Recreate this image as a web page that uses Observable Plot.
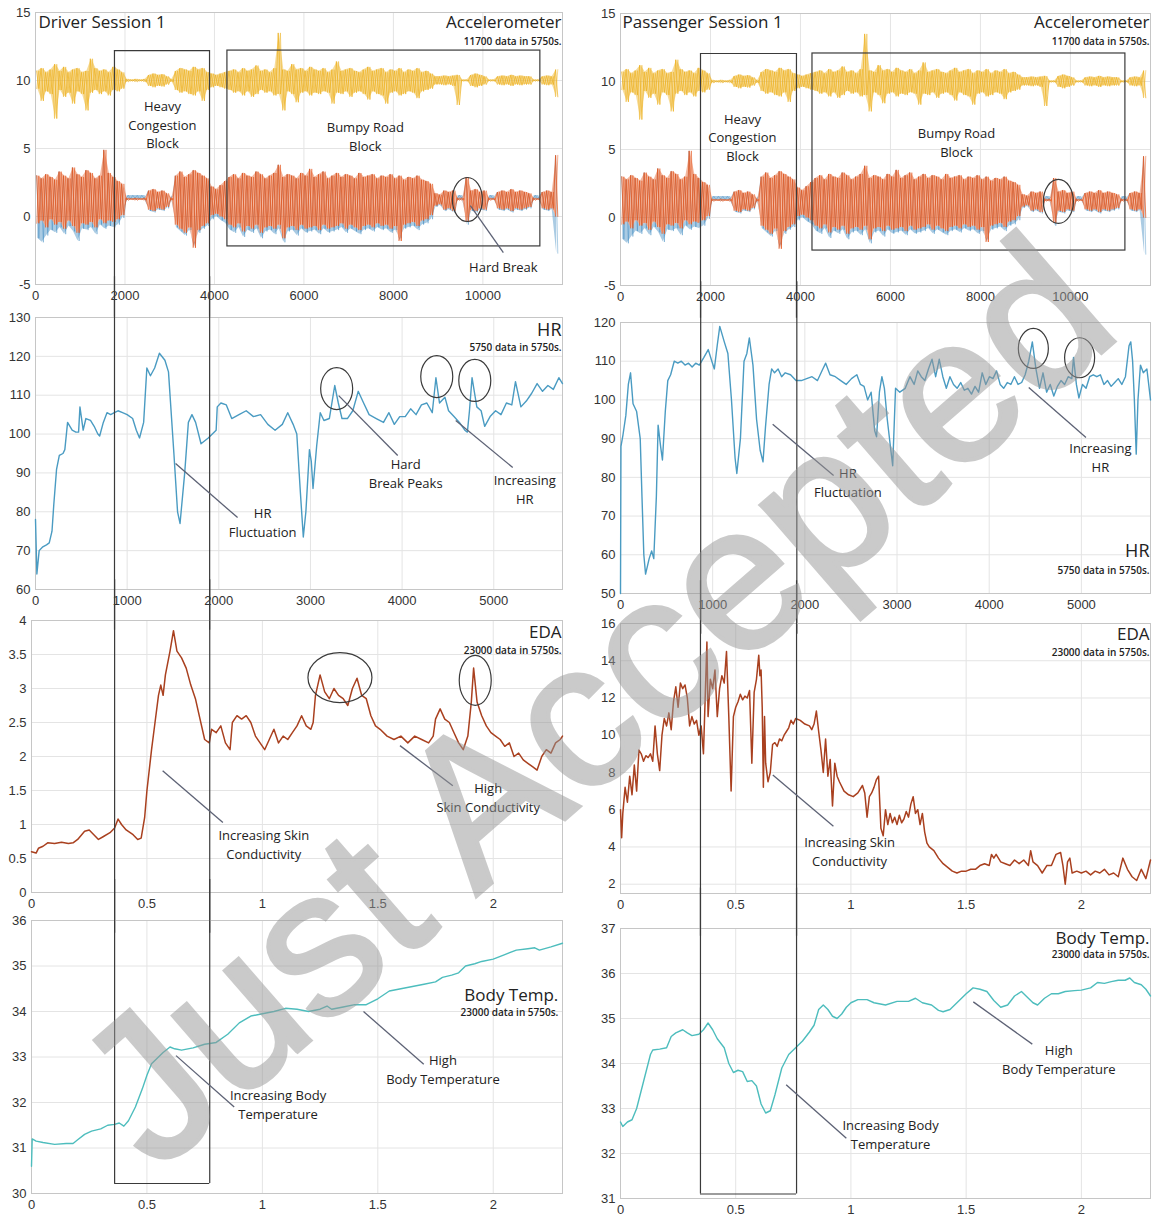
<!DOCTYPE html>
<html>
<head>
<meta charset="utf-8">
<script src="https://cdn.jsdelivr.net/npm/d3@7"></script>
<script src="https://cdn.jsdelivr.net/npm/@observablehq/plot@0.6"></script>
<style>
  body { margin: 0; background: #fff; }
  #page { position: relative; width: 1152px; height: 1220px; overflow: hidden; background: #fff; }
  #stampLayer { position: absolute; left: 0; top: 0; pointer-events: none; opacity: 0.5; }
</style>
</head>
<body>
<div id="page"></div>
<script>
// ---------------- Accelerometer: 11700 samples, envelope per 100-sample bin ----------------
const accBin = 100;
// vertical axis (gravity, ~10 m/s²) – yellow
const accGravHi = [10.7,10.9,10.6,10.8,11.2,10.7,11.0,10.6,10.8,10.9,10.6,10.7,11.6,10.9,10.7,10.8,10.6,11.0,
  10.8,10.6, 10.1,10.05,10.1,10.05,10.1, 10.4,10.5,10.4,10.45,10.3, 10.1,
  10.7,10.9,10.8,10.7,11.0,10.8,10.9,10.6, 10.5,10.4,10.5,10.6,
  10.7,10.8,10.6,10.9,10.7,10.8,11.1,10.7,10.8,10.6, 10.9,13.5,10.8,10.7,11.2,10.8,10.9,10.7,11.0,10.8,
  10.7,10.9,10.6,10.8,11.4,10.7,10.8,10.9,10.7,10.6, 10.8,11.0,10.7,10.8,10.9,10.6,10.8,10.7,10.9,10.6,
  10.8,10.7,10.9,10.6,10.7,10.5,
  10.3,10.3, 10.35,10.3,10.35, 10.4,10.05,10.05, 10.4,10.5,10.4,10.3, 10.05,10.05,
  10.3,10.35,10.3,10.4,10.3,10.35,10.3,10.3, 10.05,10.05, 10.3,10.35,10.3,10.8];
const accGravLo = [9.4,8.5,9.2,9.0,7.2,9.3,8.8,9.1,8.3,9.2,9.0,7.8,9.1,9.3,9.0,9.2,8.9,9.3,
  9.2,9.4, 9.9,9.95,9.9,9.95,9.9, 9.6,9.5,9.6,9.55,9.7, 9.9,
  9.3,9.1,9.2,9.0,8.9,9.2,8.5,9.3, 9.5,9.6,9.5,9.4,
  9.3,9.1,9.2,8.9,9.2,8.8,9.0,9.3,9.1,9.2, 8.9,9.0,7.8,9.2,9.0,8.4,9.1,9.2,8.9,9.1,
  9.0,9.2,9.1,8.3,9.1,9.0,9.2,8.8,9.1,9.2, 9.0,8.6,9.2,9.0,8.9,8.3,9.1,9.2,8.9,9.0,
  9.2,9.1,8.7,9.2,9.3,9.4,
  9.7,9.7, 9.65,9.7,9.6, 8.2,9.95,9.95, 9.6,9.5,9.6,9.7, 9.95,9.95,
  9.7,9.65,9.7,9.6,9.7,9.65,9.7,9.7, 9.95,9.95, 9.7,9.65,9.7,8.8];
// lateral axis – orange
const accLatHi = [3.0,2.8,3.1,2.9,2.7,3.3,3.0,2.8,3.6,3.1,2.9,3.4,3.2,2.8,3.0,4.9,3.2,2.9,
  2.6,2.4, 1.35,1.3,1.35,1.3,1.35, 1.9,2.0,1.8,1.9,1.7, 1.35,
  3.0,3.3,2.9,3.1,3.4,3.2,3.0,2.8, 2.2,2.0,2.3,2.6,
  2.9,3.1,2.8,3.2,3.0,2.9,3.3,3.1,2.8,3.0, 3.2,3.8,2.9,3.1,3.0,2.8,3.2,3.0,3.5,2.9,
  3.1,3.3,2.8,3.0,3.2,2.9,3.1,3.0,2.8,3.2, 2.9,3.0,3.1,2.8,3.0,2.9,3.1,2.8,3.0,2.7,
  2.9,2.8,3.0,2.7,2.6,2.4,
  1.7,1.6, 1.9,1.8,1.9, 1.35,1.35,2.9, 1.9,2.0,1.8,1.9, 1.35,1.3,
  1.8,1.9,1.8,2.0,1.8,1.9,1.8,1.7, 1.35,1.3, 1.8,1.9,1.8,4.5];
const accLatLo = [-0.5,-0.3,-0.8,-0.2,-0.6,-0.4,-0.9,-0.3,-0.7,-1.2,-0.5,-0.6,-0.4,-0.8,-0.2,-0.5,-0.3,-0.4,
  -0.2,0.1, 1.2,1.25,1.2,1.25,1.2, 0.5,0.4,0.6,0.5,0.7, 1.2,
  -0.6,-0.9,-1.2,-0.8,-2.3,-1.0,-0.7,-0.5, 0.1,0.2,0.0,-0.2,
  -0.6,-0.8,-0.5,-1.1,-0.7,-0.9,-0.6,-1.2,-0.8,-0.7, -0.9,-0.6,-1.6,-0.8,-0.7,-1.0,-0.6,-0.9,-0.8,-0.7,
  -1.0,-0.6,-0.9,-0.8,-0.7,-0.5,-0.9,-0.6,-0.8,-1.0, -0.7,-0.6,-0.8,-0.5,-0.7,-0.6,-0.9,-0.7,-1.8,-0.6,
  -0.5,-0.4,-0.7,-0.3,-0.2,0.1,
  0.8,0.9, 0.5,0.6,0.4, 1.2,1.2,-0.4, 0.5,0.4,0.6,0.5, 1.2,1.25,
  0.6,0.5,0.6,0.4,0.6,0.5,0.6,0.7, 1.2,1.25, 0.6,0.5,0.6,0.0];
// longitudinal axis – blue (lower excursions)
const accLongLo = [-1.6,-1.9,-1.4,-1.0,-1.2,-0.8,-1.3,-0.7,-1.1,-1.8,-0.9,-1.0,-0.8,-1.3,-0.6,-0.9,-0.7,-0.8,
  -0.6,-0.1, 1.55,1.55,1.55,1.55,1.55, 0.4,0.3,0.5,0.4,0.6, 1.55,
  -0.8,-1.1,-1.4,-1.0,-2.0,-1.2,-0.9,-0.7, -0.2,0.0,-0.3,-0.5,
  -1.0,-1.2,-0.8,-1.5,-1.0,-1.2,-0.9,-1.6,-1.1,-1.0, -1.3,-0.9,-1.9,-1.1,-1.0,-1.4,-0.9,-1.2,-1.1,-1.0,
  -1.3,-0.9,-1.2,-1.1,-1.0,-0.8,-1.2,-0.9,-1.1,-1.3, -1.0,-0.9,-1.1,-0.8,-1.0,-0.9,-1.2,-1.0,-1.6,-0.9,
  -0.8,-0.7,-1.0,-0.6,-0.5,-0.2,
  0.7,0.8, 0.4,0.5,0.3, 1.55,1.55,-0.6, 0.4,0.3,0.5,0.4, 1.55,1.55,
  0.5,0.4,0.5,0.3,0.5,0.4,0.5,0.6, 1.55,1.55, 0.5,0.4,0.5,-2.7];

// ---------------- Heart rate (bpm), [second, value] ----------------
const hrDriver = [[0,78],[15,64],[40,70],[80,71],[120,71.5],[150,72],[180,75],[200,82],[230,91],[260,94.5],[300,95],[320,96],[350,103],[400,101],[440,100.5],[470,100.5],[485,107],[520,101],[550,104],[600,103.5],[640,102],[680,100],[700,99.5],[740,103],[780,105.5],[820,105],[860,105.5],[900,106],[950,105.5],[1000,105],[1060,104],[1100,101],[1135,99],[1180,103],[1215,117],[1254,115],[1300,117],[1352,120.8],[1412,119],[1451,116],[1510,95],[1550,80],[1577,77],[1628,90],[1668,103],[1707,105],[1747,103],[1806,97.5],[1885,99],[1971,101],[1983,107],[2023,108],[2082,107.5],[2141,104],[2220,105],[2299,106],[2378,104.5],[2456,105],[2535,102.5],[2614,101],[2693,102.5],[2752,105.5],[2811,102.5],[2851,100],[2890,85],[2922,73.5],[2950,80],[2989,96],[3009,93],[3028,86],[3068,97],[3107,105.5],[3147,103.5],[3206,104],[3265,112.5],[3304,108],[3344,104],[3403,104],[3462,106],[3521,111],[3580,108],[3640,105],[3718,104],[3797,103],[3856,105.5],[3915,102.5],[3974,104.5],[4034,104.5],[4093,106.5],[4152,105],[4211,107.5],[4270,108],[4329,105.5],[4369,114.5],[4408,108],[4467,109.5],[4507,106],[4566,104.5],[4625,103],[4684,101],[4712,100.5],[4735,106],[4763,114.5],[4815,107],[4862,106],[4901,102],[4960,104.5],[5020,106],[5079,105],[5138,108],[5197,107.5],[5237,113.5],[5296,107],[5355,108.5],[5414,110.5],[5473,113],[5532,111],[5591,112.5],[5650,111.5],[5710,114.5],[5750,113]];
const hrPassenger = [[0,50],[5,88],[27,91],[58,96],[85,104],[109,107],[136,99],[175,97],[214,90],[233,75],[253,60],[272,55],[311,59],[338,61],[361,59],[389,75],[408,93.5],[435,88],[455,84.5],[486,97],[513,105],[544,106.5],[583,110],[622,109.5],[660,110],[700,109],[738,109.5],[777,108.5],[816,109.5],[855,109],[905,111],[952,113],[991,110],[1018,108],[1049,114],[1077,119],[1126,115],[1165,112],[1204,100],[1243,85],[1262,81],[1301,90],[1340,110],[1371,112],[1398,116],[1437,109],[1476,95],[1515,87],[1546,84],[1573,93],[1612,104],[1640,108],[1671,107],[1710,108],[1748,106],[1787,107],[1845,106.5],[1904,105],[1962,105],[2020,105.5],[2078,106],[2137,105],[2195,108],[2226,109.5],[2273,106.5],[2331,106],[2389,105],[2448,104],[2506,105.5],[2564,106.5],[2603,104],[2642,103.5],[2681,100],[2719,102],[2758,92],[2778,90.5],[2809,102],[2836,106],[2863,103],[2894,95],[2933,87],[2953,83],[2984,103],[3030,102],[3089,103],[3140,106],[3186,104],[3225,107.5],[3263,106],[3302,105],[3341,108],[3380,110.5],[3419,106],[3458,110.5],[3497,106],[3535,103],[3574,106],[3613,104],[3652,103],[3691,104.5],[3730,102.5],[3769,103],[3808,101.5],[3846,103.5],[3885,102],[3924,107],[3963,104],[4002,106],[4041,105.5],[4080,107.5],[4119,104],[4157,103],[4196,104.5],[4235,104],[4274,106],[4313,104],[4352,104.5],[4390,106.5],[4429,110],[4468,115],[4507,108],[4546,103],[4584,107],[4623,102],[4662,104],[4701,101],[4740,103.5],[4779,105],[4818,104],[4857,106],[4896,105.5],[4915,111],[4946,104],[4973,100.5],[5012,104],[5051,103],[5090,106],[5129,106.5],[5167,106],[5206,106.5],[5245,104],[5284,105],[5323,103.5],[5362,104.5],[5400,105.5],[5439,104],[5478,106],[5517,114],[5536,115],[5556,110],[5575,100],[5595,86],[5614,100],[5641,109],[5672,107],[5711,108],[5750,100]];

// ---------------- EDA (µS), [time ×10^4 s, value] ----------------
const edaDriver = [[0,0.6],[0.02,0.58],[0.03,0.65],[0.05,0.68],[0.07,0.73],[0.1,0.72],[0.13,0.74],[0.16,0.72],[0.18,0.73],[0.2,0.78],[0.23,0.9],[0.25,0.92],[0.27,0.85],[0.29,0.78],[0.31,0.82],[0.34,0.88],[0.36,0.95],[0.375,1.08],[0.39,1.0],[0.41,0.92],[0.44,0.85],[0.46,0.78],[0.475,0.8],[0.49,1.1],[0.5,1.5],[0.52,2.1],[0.535,2.5],[0.55,2.9],[0.56,3.05],[0.57,2.9],[0.58,3.2],[0.6,3.55],[0.615,3.85],[0.63,3.55],[0.65,3.45],[0.67,3.3],[0.69,3.05],[0.71,2.85],[0.73,2.55],[0.75,2.25],[0.77,2.2],[0.78,2.4],[0.8,2.35],[0.82,2.45],[0.84,2.2],[0.86,2.1],[0.87,2.5],[0.89,2.6],[0.91,2.55],[0.93,2.6],[0.95,2.5],[0.97,2.3],[0.99,2.2],[1.01,2.1],[1.03,2.25],[1.05,2.4],[1.07,2.2],[1.09,2.3],[1.11,2.25],[1.13,2.35],[1.15,2.45],[1.17,2.6],[1.19,2.45],[1.21,2.4],[1.22,2.5],[1.23,2.9],[1.25,3.2],[1.27,2.95],[1.29,2.85],[1.31,3.0],[1.33,2.9],[1.35,2.85],[1.37,2.75],[1.39,3.0],[1.41,3.15],[1.43,2.9],[1.45,2.85],[1.47,2.6],[1.49,2.45],[1.51,2.4],[1.54,2.3],[1.57,2.25],[1.6,2.3],[1.63,2.2],[1.66,2.3],[1.69,2.25],[1.72,2.2],[1.74,2.3],[1.75,2.55],[1.77,2.7],[1.79,2.55],[1.81,2.5],[1.83,2.35],[1.85,2.2],[1.87,2.1],[1.89,2.3],[1.905,2.8],[1.915,3.3],[1.93,2.8],[1.95,2.6],[1.97,2.45],[1.99,2.35],[2.01,2.3],[2.03,2.25],[2.05,2.15],[2.07,2.2],[2.09,2.0],[2.11,2.05],[2.13,1.95],[2.15,1.9],[2.17,1.85],[2.19,1.8],[2.21,2.0],[2.23,2.1],[2.25,2.05],[2.27,2.2],[2.29,2.25],[2.3,2.3]];
const edaPassenger = [[0,6.0],[0.005,4.5],[0.01,5.8],[0.015,6.5],[0.02,7.2],[0.03,6.4],[0.04,7.8],[0.05,6.8],[0.06,8.4],[0.07,7.0],[0.08,9.2],[0.09,9.0],[0.1,8.6],[0.11,8.9],[0.12,8.8],[0.13,9.0],[0.14,8.6],[0.15,10.5],[0.16,9.0],[0.17,8.1],[0.18,10.0],[0.19,10.9],[0.2,10.5],[0.21,11.2],[0.22,10.3],[0.23,11.8],[0.24,12.6],[0.25,11.5],[0.26,12.8],[0.27,12.5],[0.28,12.7],[0.29,12.0],[0.3,10.5],[0.31,11.0],[0.32,10.6],[0.33,10.8],[0.34,10.0],[0.35,10.5],[0.36,9.0],[0.37,13.0],[0.375,15.0],[0.38,11.0],[0.39,13.0],[0.4,12.5],[0.41,13.5],[0.42,11.0],[0.43,12.5],[0.44,13.2],[0.45,12.8],[0.46,14.5],[0.47,11.0],[0.48,7.0],[0.49,11.0],[0.5,11.5],[0.51,11.8],[0.52,12.2],[0.53,11.9],[0.54,12.1],[0.55,12.0],[0.56,12.4],[0.57,8.5],[0.58,12.3],[0.59,13.0],[0.6,14.3],[0.605,13.2],[0.61,13.5],[0.615,11.5],[0.62,7.2],[0.625,11.0],[0.63,8.5],[0.64,7.5],[0.65,8.0],[0.66,9.5],[0.67,9.6],[0.68,9.4],[0.69,9.8],[0.7,9.7],[0.71,10.0],[0.72,10.2],[0.73,10.4],[0.74,10.8],[0.75,10.6],[0.76,10.9],[0.78,10.8],[0.8,10.6],[0.82,10.5],[0.83,10.3],[0.84,10.6],[0.85,11.3],[0.86,10.2],[0.87,9.2],[0.88,8.0],[0.89,9.8],[0.9,7.8],[0.91,8.7],[0.92,6.2],[0.93,8.5],[0.94,7.8],[0.95,7.5],[0.97,7.0],[0.99,6.8],[1.01,6.7],[1.03,6.9],[1.05,7.3],[1.06,6.9],[1.07,5.6],[1.08,6.7],[1.09,6.9],[1.1,7.2],[1.11,7.6],[1.12,7.8],[1.13,5.0],[1.14,4.6],[1.15,6.0],[1.16,5.2],[1.17,5.8],[1.18,5.3],[1.19,5.6],[1.2,5.2],[1.21,5.7],[1.22,5.3],[1.23,5.5],[1.24,5.9],[1.25,5.6],[1.26,6.3],[1.27,6.7],[1.28,5.8],[1.29,6.0],[1.3,5.2],[1.31,5.8],[1.32,4.8],[1.33,4.2],[1.34,4.0],[1.36,3.8],[1.38,3.4],[1.4,3.1],[1.42,2.9],[1.44,2.7],[1.46,2.6],[1.48,2.7],[1.5,2.7],[1.52,2.8],[1.54,2.8],[1.56,3.0],[1.58,3.1],[1.6,3.0],[1.61,3.6],[1.62,3.4],[1.63,3.6],[1.65,3.2],[1.67,3.1],[1.69,3.0],[1.71,3.3],[1.73,3.1],[1.75,3.3],[1.77,3.0],[1.78,3.8],[1.79,3.2],[1.81,3.0],[1.83,2.6],[1.85,3.0],[1.87,3.0],[1.89,3.6],[1.91,3.7],[1.92,3.0],[1.93,2.0],[1.94,3.2],[1.95,3.4],[1.96,2.6],[1.98,2.7],[2.0,2.6],[2.02,2.7],[2.04,2.5],[2.06,2.7],[2.08,2.6],[2.1,2.8],[2.12,2.5],[2.14,2.6],[2.16,2.4],[2.18,3.4],[2.2,2.8],[2.22,2.4],[2.24,2.2],[2.26,2.8],[2.28,2.3],[2.3,3.3]];

// ---------------- Body temperature (°C), [time ×10^4 s, value] ----------------
const tempDriver = [[0,30.6],[0.003,31.2],[0.02,31.15],[0.05,31.12],[0.1,31.08],[0.15,31.1],[0.18,31.1],[0.2,31.18],[0.23,31.3],[0.26,31.37],[0.3,31.42],[0.33,31.5],[0.36,31.52],[0.38,31.55],[0.4,31.48],[0.42,31.6],[0.45,31.9],[0.48,32.3],[0.5,32.6],[0.52,32.85],[0.55,33.0],[0.57,33.1],[0.6,33.22],[0.62,33.18],[0.65,33.15],[0.7,33.2],[0.75,33.28],[0.8,33.32],[0.85,33.5],[0.9,33.75],[0.95,33.9],[1.0,33.95],[1.05,34.0],[1.1,34.07],[1.15,34.05],[1.2,34.0],[1.25,34.05],[1.28,34.12],[1.3,34.05],[1.35,34.1],[1.4,34.15],[1.45,34.15],[1.5,34.28],[1.55,34.45],[1.6,34.5],[1.65,34.55],[1.7,34.6],[1.75,34.65],[1.78,34.75],[1.82,34.8],[1.85,34.85],[1.88,35.0],[1.92,35.05],[1.95,35.1],[2.0,35.15],[2.05,35.25],[2.1,35.35],[2.15,35.38],[2.18,35.4],[2.2,35.35],[2.25,35.42],[2.3,35.5]];
const tempPassenger = [[0,32.7],[0.01,32.6],[0.03,32.7],[0.05,32.75],[0.07,33.0],[0.09,33.4],[0.11,33.8],[0.13,34.2],[0.14,34.3],[0.17,34.32],[0.2,34.35],[0.22,34.6],[0.24,34.68],[0.27,34.75],[0.29,34.68],[0.31,34.62],[0.34,34.65],[0.36,34.75],[0.38,34.9],[0.4,34.75],[0.42,34.55],[0.45,34.35],[0.47,34.0],[0.49,33.8],[0.51,33.85],[0.53,33.82],[0.55,33.6],[0.57,33.62],[0.59,33.5],[0.61,33.1],[0.63,32.9],[0.65,32.95],[0.67,33.3],[0.7,33.9],[0.73,34.2],[0.76,34.35],[0.79,34.5],[0.82,34.7],[0.84,34.85],[0.86,35.2],[0.88,35.3],[0.9,35.2],[0.92,35.05],[0.94,35.0],[0.96,35.1],[0.98,35.25],[1.0,35.35],[1.03,35.42],[1.07,35.42],[1.1,35.35],[1.15,35.3],[1.2,35.38],[1.25,35.38],[1.28,35.45],[1.31,35.35],[1.35,35.3],[1.38,35.18],[1.4,35.15],[1.43,35.2],[1.46,35.35],[1.5,35.55],[1.53,35.68],[1.56,35.65],[1.59,35.6],[1.62,35.4],[1.65,35.25],[1.68,35.3],[1.71,35.5],[1.74,35.6],[1.76,35.5],[1.79,35.35],[1.81,35.3],[1.84,35.45],[1.87,35.55],[1.9,35.55],[1.93,35.6],[1.97,35.62],[2.0,35.63],[2.04,35.68],[2.07,35.8],[2.1,35.78],[2.13,35.82],[2.16,35.85],[2.19,35.85],[2.21,35.9],[2.23,35.8],[2.26,35.75],[2.28,35.65],[2.3,35.5]];

// ---------------- Axis ticks ----------------
const accXTicks = [0, 2000, 4000, 6000, 8000, 10000];
const accYTicks = [-5, 0, 5, 10, 15];
const hrXTicks = [0, 1000, 2000, 3000, 4000, 5000];
const hrDriverYTicks = [60, 70, 80, 90, 100, 110, 120, 130];
const hrPassengerYTicks = [50, 60, 70, 80, 90, 100, 110, 120];
const timeXTicks = [0, 0.5, 1, 1.5, 2];
const edaDriverYTicks = [0, 0.5, 1, 1.5, 2, 2.5, 3, 3.5, 4];
const edaPassengerYTicks = [2, 4, 6, 8, 10, 12, 14, 16];
const tempDriverYTicks = [30, 31, 32, 33, 34, 35, 36];
const tempPassengerYTicks = [31, 32, 33, 34, 35, 36, 37];

// ---------------- drawing helpers ----------------
const C = {
  grav: "#EDB120", lat: "#E4561D", long: "#2A7DBA",
  hr: "#4a9bc2", eda: "#a9401f", temp: "#4dbdbd",
  box: "#3a3a3a", pointer: "#5d6275", text: "#222"
};
const NOTE = {fontFamily: "Open Sans", fontSize: 13, fill: C.text, lineHeight: 1.45};
const pairs = (arr) => arr.map(([t, v]) => ({t, v}));

// zig-zag traces through the bin envelope (upper then lower value per bin, and the opposite phase)
const zig = (hi, lo) => hi.flatMap((h, i) => [{t: i * accBin + 25, v: h}, {t: i * accBin + 75, v: lo[i]}]);
const zag = (hi, lo) => hi.flatMap((h, i) => [{t: i * accBin + 25, v: lo[i]}, {t: i * accBin + 75, v: h}]);
const band = (hi, lo) => hi.map((h, i) => ({t: i * accBin + 50, hi: h, lo: lo[i]}));

// ellipse outline for the highlight circles (width r, height r*k)
function ellipse(k) {
  return {draw(ctx, size) {
    const rx = Math.sqrt(size / Math.PI), ry = rx * k, c = 0.5523;
    ctx.moveTo(rx, 0);
    ctx.bezierCurveTo(rx, ry * c, rx * c, ry, 0, ry);
    ctx.bezierCurveTo(-rx * c, ry, -rx, ry * c, -rx, 0);
    ctx.bezierCurveTo(-rx, -ry * c, -rx * c, -ry, 0, -ry);
    ctx.bezierCurveTo(rx * c, -ry, rx, -ry * c, rx, 0);
    ctx.closePath();
  }};
}
const ring = (x, y, rx, ry) => Plot.dot([{x, y}], {x: "x", y: "y", r: rx, symbol: ellipse(ry / rx), stroke: C.box, strokeWidth: 1.2, fill: "none"});
const note = (x, y, text, opts = {}) => Plot.text([{x, y, text}], {x: "x", y: "y", text: "text", ...NOTE, ...opts});
const pointer = (x1, y1, x2, y2) => Plot.link([{x1, y1, x2, y2}], {x1: "x1", y1: "y1", x2: "x2", y2: "y2", stroke: C.pointer, strokeWidth: 1.3});
const blockSides = (xs, y1, y2) => Plot.ruleX(xs, {y1, y2, stroke: C.box, strokeWidth: 1.2});
const blockEdge = (xs, y) => Plot.ruleY([y], {x1: xs[0], x2: xs[1], stroke: C.box, strokeWidth: 1.2});
const cornerLabel = (title, sub, anchor, dyTitle, dySub, size = 17) => [
  Plot.text([title], {frameAnchor: anchor, lineAnchor: "middle", dx: -1, dy: dyTitle, fontFamily: "Open Sans", fontSize: size, fill: C.text}),
  Plot.text([sub], {frameAnchor: anchor, lineAnchor: "middle", dx: -1, dy: dySub, fontFamily: "Open Sans", fontSize: 10, fontWeight: 600, fill: C.text})
];

const page = document.getElementById("page");
function panel({left, top, width, height, margin: [mt, mr, mb, ml], xDomain, yDomain, xTicks, yTicks, marks}) {
  const fmt = (d) => String(d);
  const svg = Plot.plot({
    width, height, marginTop: mt, marginRight: mr, marginBottom: mb, marginLeft: ml,
    x: {domain: xDomain, label: null},
    y: {domain: yDomain, label: null},
    style: "background: transparent; overflow: visible; font-family: 'Liberation Sans', Arial, sans-serif;",
    marks: [
      Plot.gridX(xTicks, {stroke: "#e4e4e4", strokeOpacity: 1}),
      Plot.gridY(yTicks, {stroke: "#e4e4e4", strokeOpacity: 1}),
      Plot.frame({stroke: "#c6c6c6"}),
      ...marks,
      Plot.axisX(xTicks, {tickSize: 0, tickPadding: 6, tickFormat: fmt, fontSize: 13, fill: "#333", label: null}),
      Plot.axisY(yTicks, {tickSize: 0, tickPadding: 5, tickFormat: fmt, fontSize: 13, fill: "#333", label: null})
    ]
  });
  svg.style.position = "absolute";
  svg.style.left = left + "px";
  svg.style.top = top + "px";
  page.appendChild(svg);
}

// three accelerometer traces: light envelope plus crossing traces through it
function accMarks() {
  return [
    Plot.areaY(band(accLatLo, accLongLo), {x: "t", y1: "lo", y2: "hi", fill: C.long, fillOpacity: 0.4}),
    Plot.line(zig(accLatHi, accLongLo), {x: "t", y: "v", stroke: C.long, strokeWidth: 0.7, strokeOpacity: 0.55}),
    Plot.areaY(band(accLatHi, accLatLo), {x: "t", y1: "lo", y2: "hi", fill: C.lat, fillOpacity: 0.42}),
    Plot.line(zig(accLatHi, accLatLo), {x: "t", y: "v", stroke: C.lat, strokeWidth: 0.8, strokeOpacity: 0.9}),
    Plot.line(zag(accLatHi, accLatLo), {x: "t", y: "v", stroke: C.lat, strokeWidth: 0.7, strokeOpacity: 0.7}),
    Plot.areaY(band(accGravHi, accGravLo), {x: "t", y1: "lo", y2: "hi", fill: C.grav, fillOpacity: 0.45}),
    Plot.line(zig(accGravHi, accGravLo), {x: "t", y: "v", stroke: C.grav, strokeWidth: 0.8, strokeOpacity: 0.9}),
    Plot.line(zag(accGravHi, accGravLo), {x: "t", y: "v", stroke: C.grav, strokeWidth: 0.7, strokeOpacity: 0.7})
  ];
}

// ===== Left column: driver =====
const accDomainX = [0, 11780];
panel({
  left: 0, top: 0, width: 576, height: 305, margin: [12, 14, 21, 35],
  xDomain: accDomainX, yDomain: [-5, 15], xTicks: accXTicks, yTicks: accYTicks,
  marks: [
    ...accMarks(),
    Plot.rect([{x1: 4290, x2: 11285, y1: -2.2, y2: 12.2}], {x1: "x1", x2: "x2", y1: "y1", y2: "y2", fill: "none", stroke: C.box, strokeWidth: 1.2}),
    blockSides([1765, 3890], 12.2, -7.4), blockEdge([1765, 3890], 12.2),
    note(2838, 6.84, "Heavy\nCongestion\nBlock"),
    note(7374, 5.96, "Bumpy Road\nBlock"),
    ring(9654, 1.25, 15, 22),
    pointer(9720, 0.8, 10458, -2.65),
    note(10458, -3.6, "Hard Break"),
    Plot.text(["Driver Session 1"], {frameAnchor: "top-left", lineAnchor: "middle", dx: 3, dy: 10, fontFamily: "Open Sans", fontSize: 17, fill: C.text}),
    ...cornerLabel("Accelerometer", "11700 data in 5750s.", "top-right", 10, 29)
  ]
});

panel({
  left: 0, top: 305, width: 576, height: 307, margin: [12, 14, 23, 35],
  xDomain: [0, 5750], yDomain: [60, 130], xTicks: hrXTicks, yTicks: hrDriverYTicks,
  marks: [
    Plot.line(pairs(hrDriver), {x: "t", y: "v", stroke: C.hr, strokeWidth: 1.4}),
    blockSides([862, 1900], 49.5, 140.5),
    ring(3286, 111.7, 16, 21), ring(4378, 114.8, 16, 21), ring(4793, 113.8, 16, 21),
    pointer(1528, 92.4, 2205, 78.5), note(2478, 77.5, "HR\nFluctuation"),
    pointer(3308, 109.9, 3952, 94.5), note(4039, 90.1, "Hard\nBreak Peaks"),
    pointer(4585, 103.5, 5207, 91.4), note(5338, 86, "Increasing\nHR"),
    ...cornerLabel("HR", "5750 data in 5750s.", "top-right", 13, 30, 18)
  ]
});

panel({
  left: 0, top: 612, width: 576, height: 300, margin: [8, 14, 20, 31],
  xDomain: [0, 2.3], yDomain: [0, 4], xTicks: timeXTicks, yTicks: edaDriverYTicks,
  marks: [
    Plot.line(pairs(edaDriver), {x: "t", y: "v", stroke: C.eda, strokeWidth: 1.5}),
    blockSides([0.36, 0.772], -0.6, 4.6),
    ring(1.336, 3.16, 32, 25), ring(1.922, 3.12, 16, 25),
    pointer(0.568, 1.79, 0.829, 1.03), note(1.006, 0.72, "Increasing Skin\nConductivity"),
    pointer(1.596, 2.16, 1.825, 1.57), note(1.978, 1.41, "High\nSkin Conductivity"),
    ...cornerLabel("EDA", "23000 data in 5750s.", "top-right", 12, 30)
  ]
});

panel({
  left: 0, top: 912, width: 576, height: 308, margin: [8, 14, 27, 31],
  xDomain: [0, 2.3], yDomain: [30, 36], xTicks: timeXTicks, yTicks: tempDriverYTicks,
  marks: [
    Plot.line(pairs(tempDriver), {x: "t", y: "v", stroke: C.temp, strokeWidth: 1.4}),
    blockSides([0.36, 0.772], 30.22, 36.9), blockEdge([0.36, 0.772], 30.22),
    pointer(0.626, 33.03, 0.878, 31.9), note(1.068, 31.98, "Increasing Body\nTemperature"),
    pointer(1.438, 34.0, 1.699, 32.84), note(1.782, 32.75, "High\nBody Temperature"),
    note(2.282, 34.36, "Body Temp.", {textAnchor: "end", fontSize: 17, lineHeight: 1}),
    note(2.282, 33.98, "23000 data in 5750s.", {textAnchor: "end", fontSize: 10, fontWeight: 600, lineHeight: 1})
  ]
});

// ===== Right column: passenger =====
panel({
  left: 576, top: 0, width: 576, height: 305, margin: [13, 2, 20, 44],
  xDomain: accDomainX, yDomain: [-5, 15], xTicks: accXTicks, yTicks: accYTicks,
  marks: [
    ...accMarks(),
    Plot.rect([{x1: 4267, x2: 11222, y1: -2.43, y2: 12.06}], {x1: "x1", x2: "x2", y1: "y1", y2: "y2", fill: "none", stroke: C.box, strokeWidth: 1.2}),
    blockSides([1778, 3911], 12.06, -7.4), blockEdge([1778, 3911], 12.06),
    note(2711, 5.96, "Heavy\nCongestion\nBlock"),
    note(7467, 5.6, "Bumpy Road\nBlock"),
    ring(9733, 1.18, 15, 22),
    Plot.text(["Passenger Session 1"], {frameAnchor: "top-left", lineAnchor: "middle", dx: 2, dy: 9, fontFamily: "Open Sans", fontSize: 17, fill: C.text}),
    ...cornerLabel("Accelerometer", "11700 data in 5750s.", "top-right", 9, 28)
  ]
});

panel({
  left: 576, top: 305, width: 576, height: 310, margin: [17, 2, 22, 44],
  xDomain: [0, 5750], yDomain: [50, 120], xTicks: hrXTicks, yTicks: hrPassengerYTicks,
  marks: [
    Plot.line(pairs(hrPassenger), {x: "t", y: "v", stroke: C.hr, strokeWidth: 1.4}),
    blockSides([870, 1913], 39.5, 130.5),
    ring(4479, 113.3, 15, 20), ring(4981, 110.9, 15, 20),
    pointer(1651, 93.7, 2312, 80.5), note(2467, 78.9, "HR\nFluctuation"),
    pointer(4429, 103.2, 5050, 90.3), note(5206, 85.4, "Increasing\nHR"),
    ...cornerLabel("HR", "5750 data in 5750s.", "bottom-right", -42, -23, 18)
  ]
});

panel({
  left: 576, top: 615, width: 576, height: 300, margin: [8, 2, 22, 44],
  xDomain: [0, 2.3], yDomain: [1.5, 16], xTicks: timeXTicks, yTicks: edaPassengerYTicks,
  marks: [
    Plot.line(pairs(edaPassenger), {x: "t", y: "v", stroke: C.eda, strokeWidth: 1.5}),
    blockSides([0.347, 0.764], -0.8, 18.3),
    pointer(0.661, 7.86, 0.924, 5.11), note(0.994, 3.81, "Increasing Skin\nConductivity"),
    ...cornerLabel("EDA", "23000 data in 5750s.", "top-right", 11, 29)
  ]
});

panel({
  left: 576, top: 915, width: 576, height: 305, margin: [13, 2, 22, 44],
  xDomain: [0, 2.3], yDomain: [31, 37], xTicks: timeXTicks, yTicks: tempPassengerYTicks,
  marks: [
    Plot.line(pairs(tempPassenger), {x: "t", y: "v", stroke: C.temp, strokeWidth: 1.4}),
    blockSides([0.347, 0.764], 31.1, 37.9), blockEdge([0.347, 0.764], 31.1),
    pointer(0.719, 33.53, 0.98, 32.34), note(1.172, 32.45, "Increasing Body\nTemperature"),
    pointer(1.531, 35.37, 1.787, 34.43), note(1.902, 34.12, "High\nBody Temperature"),
    ...cornerLabel("Body Temp.", "23000 data in 5750s.", "top-right", 10, 26)
  ]
});

// publication stamp across the whole figure
const NS = "http://www.w3.org/2000/svg";
const layer = document.createElementNS(NS, "svg");
layer.setAttribute("id", "stampLayer");
layer.setAttribute("width", 1152);
layer.setAttribute("height", 1220);
const stamp = document.createElementNS(NS, "text");
stamp.setAttribute("transform", "translate(594,700) rotate(-41)");
stamp.setAttribute("text-anchor", "middle");
stamp.setAttribute("dominant-baseline", "central");
stamp.setAttribute("font-family", "Liberation Sans, Arial, sans-serif");
stamp.setAttribute("font-size", 206);
stamp.setAttribute("fill", "rgb(150,150,150)");
stamp.setAttribute("stroke", "rgb(150,150,150)");
stamp.setAttribute("stroke-width", 4);
stamp.textContent = "Just Accepted";
layer.appendChild(stamp);
page.appendChild(layer);
</script>
</body>
</html>
